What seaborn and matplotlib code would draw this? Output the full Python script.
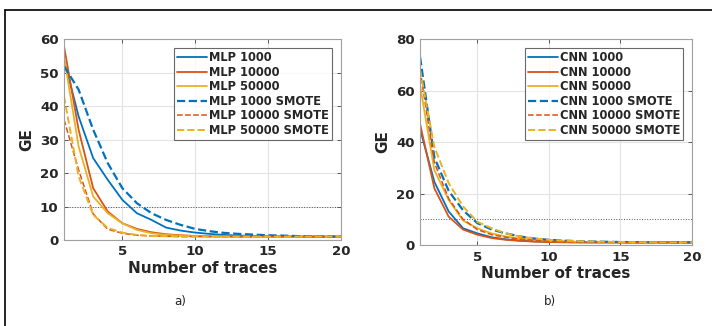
import matplotlib
matplotlib.use("Agg")
import matplotlib.pyplot as plt
from matplotlib.lines import Line2D
import seaborn as sns
import numpy as np
import pandas as pd

sns.set_style("white")
plt.rcParams['font.family'] = ['DejaVu Sans']

traces = list(range(1, 21))

# Panel a) MLP
mlp_1000 = [54, 37, 24.5, 18, 12, 8, 6, 3.7, 2.8, 2.2, 1.8, 1.5, 1.3, 1.2, 1.1, 1.05, 1, 1, 1, 1]
mlp_10000 = [58, 33, 15.5, 8.5, 5, 3.3, 2.3, 1.7, 1.4, 1.2, 1.1, 1.05, 1, 1, 1, 1, 1, 1, 1, 1]
mlp_50000 = [55, 28, 13, 8, 5, 3, 2, 1.5, 1.3, 1.15, 1.05, 1, 1, 1, 1, 1, 1, 1, 1, 1]
mlp_1000_smote = [52, 45, 33, 23, 15.5, 11, 8, 6, 4.5, 3.3, 2.6, 2.1, 1.8, 1.6, 1.4, 1.3, 1.15, 1.05, 1, 1]
mlp_10000_smote = [36, 21, 7.8, 3.2, 2, 1.4, 1.2, 1.1, 1, 1, 1, 1, 1, 1, 1, 1, 1, 1, 1, 1]
mlp_50000_smote = [43, 19, 7.5, 3.6, 2.2, 1.5, 1.2, 1.1, 1, 1, 1, 1, 1, 1, 1, 1, 1, 1, 1, 1]

# Panel b) CNN
cnn_1000 = [45, 24.5, 13, 6.5, 4.5, 3, 2.2, 1.7, 1.4, 1.2, 1.1, 1.05, 1, 1, 1, 1, 1, 1, 1, 1]
cnn_10000 = [47, 22, 11, 6, 4, 2.7, 2, 1.6, 1.3, 1.15, 1.05, 1, 1, 1, 1, 1, 1, 1, 1, 1]
cnn_50000 = [62, 29, 17.5, 9.5, 6.5, 4.5, 3.3, 2.5, 2, 1.6, 1.4, 1.25, 1.15, 1.1, 1.05, 1, 1, 1, 1, 1]
cnn_1000_smote = [73, 34, 21, 13.5, 8.5, 6, 4.5, 3.3, 2.5, 2, 1.7, 1.5, 1.35, 1.25, 1.15, 1.1, 1.05, 1, 1, 1]
cnn_10000_smote = [68, 32, 18, 10, 6, 4, 3, 2.2, 1.8, 1.5, 1.3, 1.2, 1.1, 1.05, 1, 1, 1, 1, 1, 1]
cnn_50000_smote = [68, 38, 24, 15, 9, 6.5, 4.5, 3.3, 2.5, 2, 1.7, 1.5, 1.35, 1.25, 1.15, 1.1, 1.05, 1, 1, 1]

mlp_labels = ["MLP 1000", "MLP 10000", "MLP 50000",
              "MLP 1000 SMOTE", "MLP 10000 SMOTE", "MLP 50000 SMOTE"]
cnn_labels = ["CNN 1000", "CNN 10000", "CNN 50000",
              "CNN 1000 SMOTE", "CNN 10000 SMOTE", "CNN 50000 SMOTE"]

colors = ["#0072BD", "#D95319", "#EDB120"] * 2
styles = ["-", "-", "-", "--", "--", "--"]
widths = [1.3, 1.3, 1.3, 1.6, 1.1, 1.4]

fig = plt.figure(figsize=(7.12, 3.26), dpi=100)
ax_a = fig.add_axes([0.0899, 0.264, 0.389, 0.615])
ax_b = fig.add_axes([0.590, 0.2485, 0.382, 0.6315])

text_col = "#262626"


def draw(ax, series, labels, ymax, ystep):
    for vals, lab, c, ls, lw in zip(series, labels, colors, styles, widths):
        df = pd.DataFrame({"x": traces, "y": vals})
        sns.lineplot(data=df, x="x", y="y", ax=ax, color=c, linestyle=ls,
                     linewidth=lw, label=lab)
    ax.axhline(10, color="#555555", linestyle=":", linewidth=0.7, zorder=1)
    ax.set_xlim(1, 20)
    ax.set_ylim(0, ymax)
    ax.set_xticks([5, 10, 15, 20])
    ax.set_yticks(np.arange(0, ymax + 1, ystep))
    ax.grid(True, color="#e3e3e3", linewidth=0.8)
    ax.set_axisbelow(True)
    for s in ax.spines.values():
        s.set_color("#a0a0a0")
        s.set_linewidth(0.8)
    ax.tick_params(direction="in", length=3, width=0.6, color="#404040",
                   top=True, right=True, bottom=True, left=True,
                   labelsize=9.6, labelcolor=text_col, pad=4)
    for t in ax.get_xticklabels() + ax.get_yticklabels():
        t.set_fontweight("bold")
    ax.set_xlabel("Number of traces", fontsize=11, fontweight="bold", color=text_col, labelpad=2)
    ax.set_ylabel("GE", fontsize=11, fontweight="bold", color=text_col, labelpad=4)
    leg = ax.legend(loc="upper right", bbox_to_anchor=(0.967, 0.955),
                    prop={"weight": "bold", "size": 8.3}, frameon=True, fancybox=False,
                    handlelength=2.6, handletextpad=0.2, borderpad=0.25,
                    labelspacing=0.13, borderaxespad=0)
    leg.get_frame().set_edgecolor("#444444")
    leg.get_frame().set_linewidth(0.8)
    for t in leg.get_texts():
        t.set_color(text_col)


draw(ax_a, [mlp_1000, mlp_10000, mlp_50000, mlp_1000_smote, mlp_10000_smote, mlp_50000_smote],
     mlp_labels, 60, 10)
draw(ax_b, [cnn_1000, cnn_10000, cnn_50000, cnn_1000_smote, cnn_10000_smote, cnn_50000_smote],
     cnn_labels, 80, 20)

fig.text(180 / 712, 1 - 302 / 326, "a)", fontsize=8.5, ha="center", va="center", color="#222222")
fig.text(550 / 712, 1 - 302 / 326, "b)", fontsize=8.5, ha="center", va="center", color="#222222")

# outer frame (left and top edges)
fig.add_artist(Line2D([4.5 / 712, 4.5 / 712], [0, 1 - 10 / 326], color="black", linewidth=1.2,
                      transform=fig.transFigure))
fig.add_artist(Line2D([4.5 / 712, 1], [1 - 10 / 326, 1 - 10 / 326], color="black", linewidth=1.2,
                      transform=fig.transFigure))

fig.savefig("out.png", dpi=100)
